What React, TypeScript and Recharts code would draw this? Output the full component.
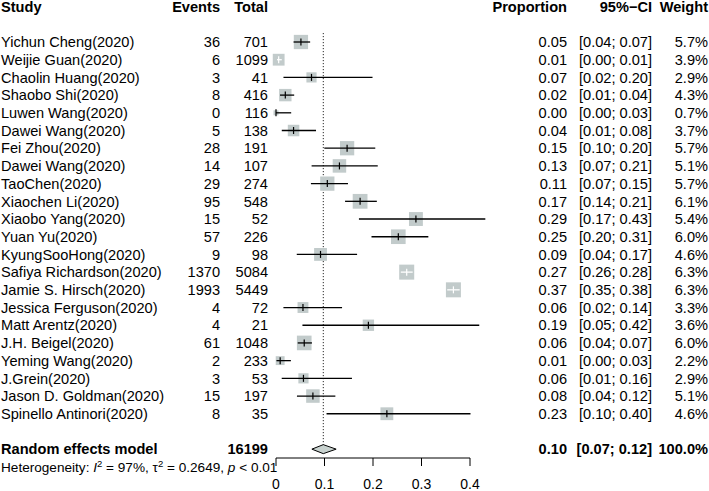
import React from "react";
import { ScatterChart, Scatter, XAxis, YAxis, ErrorBar, ReferenceLine } from "recharts";

const studies = [
  "Yichun Cheng(2020)", "Weijie Guan(2020)", "Chaolin Huang(2020)", "Shaobo Shi(2020)",
  "Luwen Wang(2020)", "Dawei Wang(2020)", "Fei Zhou(2020)", "Dawei Wang(2020)",
  "TaoChen(2020)", "Xiaochen Li(2020)", "Xiaobo Yang(2020)", "Yuan Yu(2020)",
  "KyungSooHong(2020)", "Safiya Richardson(2020)", "Jamie S. Hirsch(2020)", "Jessica Ferguson(2020)",
  "Matt Arentz(2020)", "J.H. Beigel(2020)", "Yeming Wang(2020)", "J.Grein(2020)",
  "Jason D. Goldman(2020)", "Spinello Antinori(2020)",
];
const events = [36, 6, 3, 8, 0, 5, 28, 14, 29, 95, 15, 57, 9, 1370, 1993, 4, 4, 61, 2, 3, 15, 8];
const totals = [701, 1099, 41, 416, 116, 138, 191, 107, 274, 548, 52, 226, 98, 5084, 5449, 72, 21, 1048, 233, 53, 197, 35];
const proportion = [
  0.0514, 0.0055, 0.0732, 0.0192, 0.0, 0.0362, 0.1466, 0.1308, 0.1058, 0.1734, 0.2885,
  0.2522, 0.0918, 0.2695, 0.3658, 0.0556, 0.1905, 0.0582, 0.0086, 0.0566, 0.0761, 0.2286,
];
const ciLow = [
  0.0362, 0.002, 0.0154, 0.0083, 0.0, 0.0119, 0.0996, 0.0734, 0.072, 0.1424, 0.171,
  0.1969, 0.0428, 0.2573, 0.353, 0.0153, 0.0545, 0.0448, 0.001, 0.0118, 0.0432, 0.1042,
];
const ciHigh = [
  0.0704, 0.0119, 0.199, 0.0375, 0.0313, 0.0825, 0.2047, 0.2098, 0.1484, 0.2079, 0.4316,
  0.3141, 0.1672, 0.2818, 0.3787, 0.1362, 0.4191, 0.0741, 0.0307, 0.1566, 0.1224, 0.401,
];
const weights = [5.7, 3.9, 2.9, 4.3, 0.7, 3.7, 5.7, 5.1, 5.7, 6.1, 5.4, 6.0, 4.6, 6.3, 6.3, 3.3, 3.6, 6.0, 2.2, 2.9, 5.1, 4.6];

const pooledTotal = 16199;
const pooledEst = 0.0975;
const pooledLow = 0.074;
const pooledHigh = 0.124;
const axisTicks = [0, 0.1, 0.2, 0.3, 0.4];

const FONT = "'Liberation Sans', Arial, Helvetica, sans-serif";
const FS = 14.6;
const BOX_FILL = "#c2cbcb";
const PX_PER_UNIT = 485; // plot width / x range, used only to pick white vs black CI

const HEADER_ROW = -2;
const POOLED_ROW = 23;

const boxSide = (w: number) => 15 * Math.sqrt(w / 6.3);

const rows = studies.map((s, i) => {
  const inside = (ciHigh[i] - ciLow[i]) * PX_PER_UNIT < boxSide(weights[i]) - 1;
  return {
    row: i,
    x: proportion[i],
    w: weights[i],
    err: [proportion[i] - ciLow[i], ciHigh[i] - proportion[i]],
    inside,
  };
});

const labelRows = [
  { row: HEADER_ROW, x: 0, bold: true, cols: ["Study", "Events", "Total", "Proportion", "95%\u2212CI", "Weight"] },
  ...studies.map((s, i) => ({
    row: i,
    x: 0,
    bold: false,
    cols: [
      s, String(events[i]), String(totals[i]), proportion[i].toFixed(2),
      `[${ciLow[i].toFixed(2)}; ${ciHigh[i].toFixed(2)}]`, `${weights[i].toFixed(1)}%`,
    ],
  })),
  {
    row: POOLED_ROW, x: 0, bold: true,
    cols: ["Random effects model", "", String(pooledTotal), pooledEst.toFixed(2),
      `[${pooledLow.toFixed(2)}; ${pooledHigh.toFixed(2)}]`, "100.0%"],
  },
];

const diamond = [
  { x: pooledLow, row: POOLED_ROW },
  { x: pooledEst, row: POOLED_ROW },
  { x: pooledHigh, row: POOLED_ROW },
];

// x anchor of each text column
const colX = [1, 220, 268, 567, 652, 708];

const LabelShape = (props: any) => {
  const { cy, payload } = props;
  const y = cy + FS * 0.36;
  return (
    <g>
      {payload.cols.map((t: string, k: number) => (
        <text key={k} x={colX[k]} y={y} textAnchor={k === 0 ? "start" : "end"}
          fontSize={FS} fontWeight={payload.bold ? "bold" : "normal"} fill="#000" fontFamily={FONT}>
          {t}
        </text>
      ))}
    </g>
  );
};

const SquareShape = (props: any) => {
  const { cx, cy, payload } = props;
  const s = boxSide(payload.w);
  return <rect x={cx - s / 2} y={cy - s / 2} width={s} height={s} fill={BOX_FILL} />;
};

const tickShape = (color: string) => (props: any) => {
  const { cx, cy } = props;
  return <line x1={cx} x2={cx} y1={cy - 3.5} y2={cy + 3.5} stroke={color} strokeWidth={1.2} />;
};

const DiamondLine = (props: any) => {
  const pts = props.points;
  if (!pts || pts.length < 3) return <g />;
  const [a, b, c] = pts;
  const h = 4.5;
  const d = `${a.x},${a.y} ${b.x},${b.y - h} ${c.x},${c.y} ${b.x},${b.y + h}`;
  return <polygon points={d} fill="#c8d2cf" stroke="#000" strokeWidth={1} />;
};

export default function App() {
  return (
    <div style={{ position: "absolute", left: 0, top: 0, width: 709, height: 491, background: "#fff", fontFamily: FONT }}>
      <ScatterChart width={709} height={491} margin={{ top: 6.6, right: 219.6, bottom: 0, left: 276 }}>
        <XAxis type="number" dataKey="x" domain={[0, 0.44]} ticks={axisTicks} interval={0}
          axisLine={false} tickLine={{ stroke: "#000" }} tickSize={8} tickMargin={13} height={33}
          tick={{ fill: "#000", fontSize: 14, fontFamily: FONT }} />
        <YAxis type="number" dataKey="row" domain={[HEADER_ROW, 23.5]} reversed hide width={0} />
        <ReferenceLine segment={[{ x: pooledEst, y: -0.5 }, { x: pooledEst, y: 22.75 }]}
          stroke="#000" strokeDasharray="1 2" strokeWidth={1} zIndex={100} />
        <ReferenceLine segment={[{ x: 0, y: 23.5 }, { x: 0.4, y: 23.5 }]} stroke="#000" strokeWidth={1} />
        <Scatter data={labelRows} shape={LabelShape} isAnimationActive={false} />
        <Scatter data={rows} shape={SquareShape} isAnimationActive={false} />
        <Scatter data={rows.filter((r) => !r.inside)} shape={tickShape("#000")} isAnimationActive={false} zIndex={800}>
          <ErrorBar dataKey="err" direction="x" width={0} stroke="#000" strokeWidth={1.3} zIndex={700} />
        </Scatter>
        <Scatter data={rows.filter((r) => r.inside)} shape={tickShape("#fff")} isAnimationActive={false} zIndex={800}>
          <ErrorBar dataKey="err" direction="x" width={0} stroke="#fff" strokeWidth={1.3} zIndex={700} />
        </Scatter>
        <Scatter data={diamond} line={DiamondLine} lineType="joint" shape={() => <g />} isAnimationActive={false} zIndex={800} />
      </ScatterChart>
      <svg width={709} height={491} style={{ position: "absolute", left: 0, top: 0, pointerEvents: "none" }}>
        <text x={1} y={472} fontSize={13.6} fontFamily={FONT} fill="#000">
          Heterogeneity: <tspan fontStyle="italic">I</tspan>
          <tspan dy={-5} fontSize={9.5}>2</tspan>
          <tspan dy={5}> = 97%, τ</tspan>
          <tspan dy={-5} fontSize={9.5}>2</tspan>
          <tspan dy={5}> = 0.2649, </tspan>
          <tspan fontStyle="italic">p</tspan> &lt; 0.01
        </text>
      </svg>
    </div>
  );
}
